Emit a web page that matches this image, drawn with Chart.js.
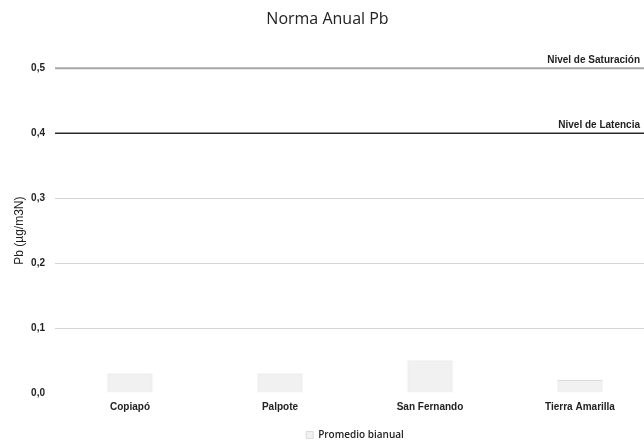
<!DOCTYPE html>
<html>
<head>
<meta charset="utf-8">
<script src="https://cdn.jsdelivr.net/npm/chart.js@4.4.1/dist/chart.umd.min.js"></script>
<style>
html,body{margin:0;padding:0;background:#fff;overflow:hidden;}
#wrap{width:655px;height:441px;position:relative;}
</style>
</head>
<body>
<div id="wrap"><canvas id="c"></canvas></div>
<script>
const categories = ['Copiapó', 'Palpote', 'San Fernando', 'Tierra Amarilla'];
const promedioBianual = [0.03, 0.03, 0.05, 0.02];
const levelNames = ['Nivel de Saturación', 'Nivel de Latencia'];
const levelValues = [0.5, 0.4];
const levelColors = ['#a8a8a8', '#2a2a2a'];
const levelWidths = [2, 1.5];
const yTicks = [0, 0.1, 0.2, 0.3, 0.4, 0.5];

const levelsPlugin = {
  id: 'levels',
  afterDatasetsDraw(chart) {
    const {ctx, chartArea, scales} = chart;
    ctx.save();
    levelValues.forEach((v, i) => {
      const y = scales.y.getPixelForValue(v);
      ctx.beginPath();
      ctx.strokeStyle = levelColors[i];
      ctx.lineWidth = levelWidths[i];
      ctx.moveTo(chartArea.left, y);
      ctx.lineTo(chartArea.right, y);
      ctx.stroke();
      ctx.fillStyle = '#222';
      ctx.font = 'bold 10px "Liberation Sans Narrow", "Liberation Sans", sans-serif';
      ctx.textAlign = 'right';
      ctx.textBaseline = 'bottom';
      ctx.fillText(levelNames[i], 640, y - 3);
    });
    ctx.restore();
  }
};

new Chart(document.getElementById('c'), {
  type: 'bar',
  data: {
    labels: categories,
    datasets: [{
      label: 'Promedio bianual',
      data: promedioBianual,
      backgroundColor: '#f1f1f1',
      borderColor: '#dadada',
      borderWidth: 1,
      barPercentage: 0.3,
      categoryPercentage: 1
    }]
  },
  options: {
    responsive: true,
    maintainAspectRatio: false,
    animation: false,
    devicePixelRatio: 1,
    layout: {padding: {left: 0, right: 0, top: 0, bottom: -9}},
    plugins: {
      title: {
        display: true,
        text: 'Norma Anual Pb',
        color: '#222',
        font: {family: '"Open Sans", sans-serif', size: 16, weight: 'normal'},
        padding: {top: 10, bottom: 39}
      },
      legend: {
        position: 'bottom',
        fullSize: false,
        labels: {
          color: '#222',
          boxWidth: 7,
          boxHeight: 7,
          padding: 2,
          font: {family: '"Open Sans", sans-serif', size: 10, weight: '600'}
        }
      },
      tooltip: {enabled: false}
    },
    scales: {
      x: {
        grid: {display: false},
        border: {display: false},
        afterFit(scale) { scale.height = 35; },
        ticks: {
          color: '#222',
          padding: 0,
          font: {family: '"Liberation Sans Narrow", "Liberation Sans", sans-serif', size: 10, weight: 'bold'}
        }
      },
      y: {
        min: 0,
        max: 0.5,
        afterFit(scale) { scale.width = 55; },
        afterBuildTicks(scale) { scale.ticks = yTicks.map(v => ({value: v})); },
        grid: {
          color: ctx => ctx.tick && ctx.tick.value === 0 ? 'rgba(0,0,0,0)' : '#d4d4d4',
          drawTicks: false
        },
        border: {display: false},
        ticks: {
          color: '#222',
          padding: 10,
          font: {family: '"Liberation Sans", sans-serif', size: 10, weight: 'bold'},
          callback: v => Number(v).toFixed(1).replace('.', ',')
        },
        title: {
          display: true,
          text: 'Pb (µg/m3N)',
          color: '#222',
          padding: {top: 12, bottom: 0},
          font: {family: '"Liberation Sans", sans-serif', size: 12}
        }
      }
    }
  },
  plugins: [levelsPlugin]
});
</script>
</body>
</html>
